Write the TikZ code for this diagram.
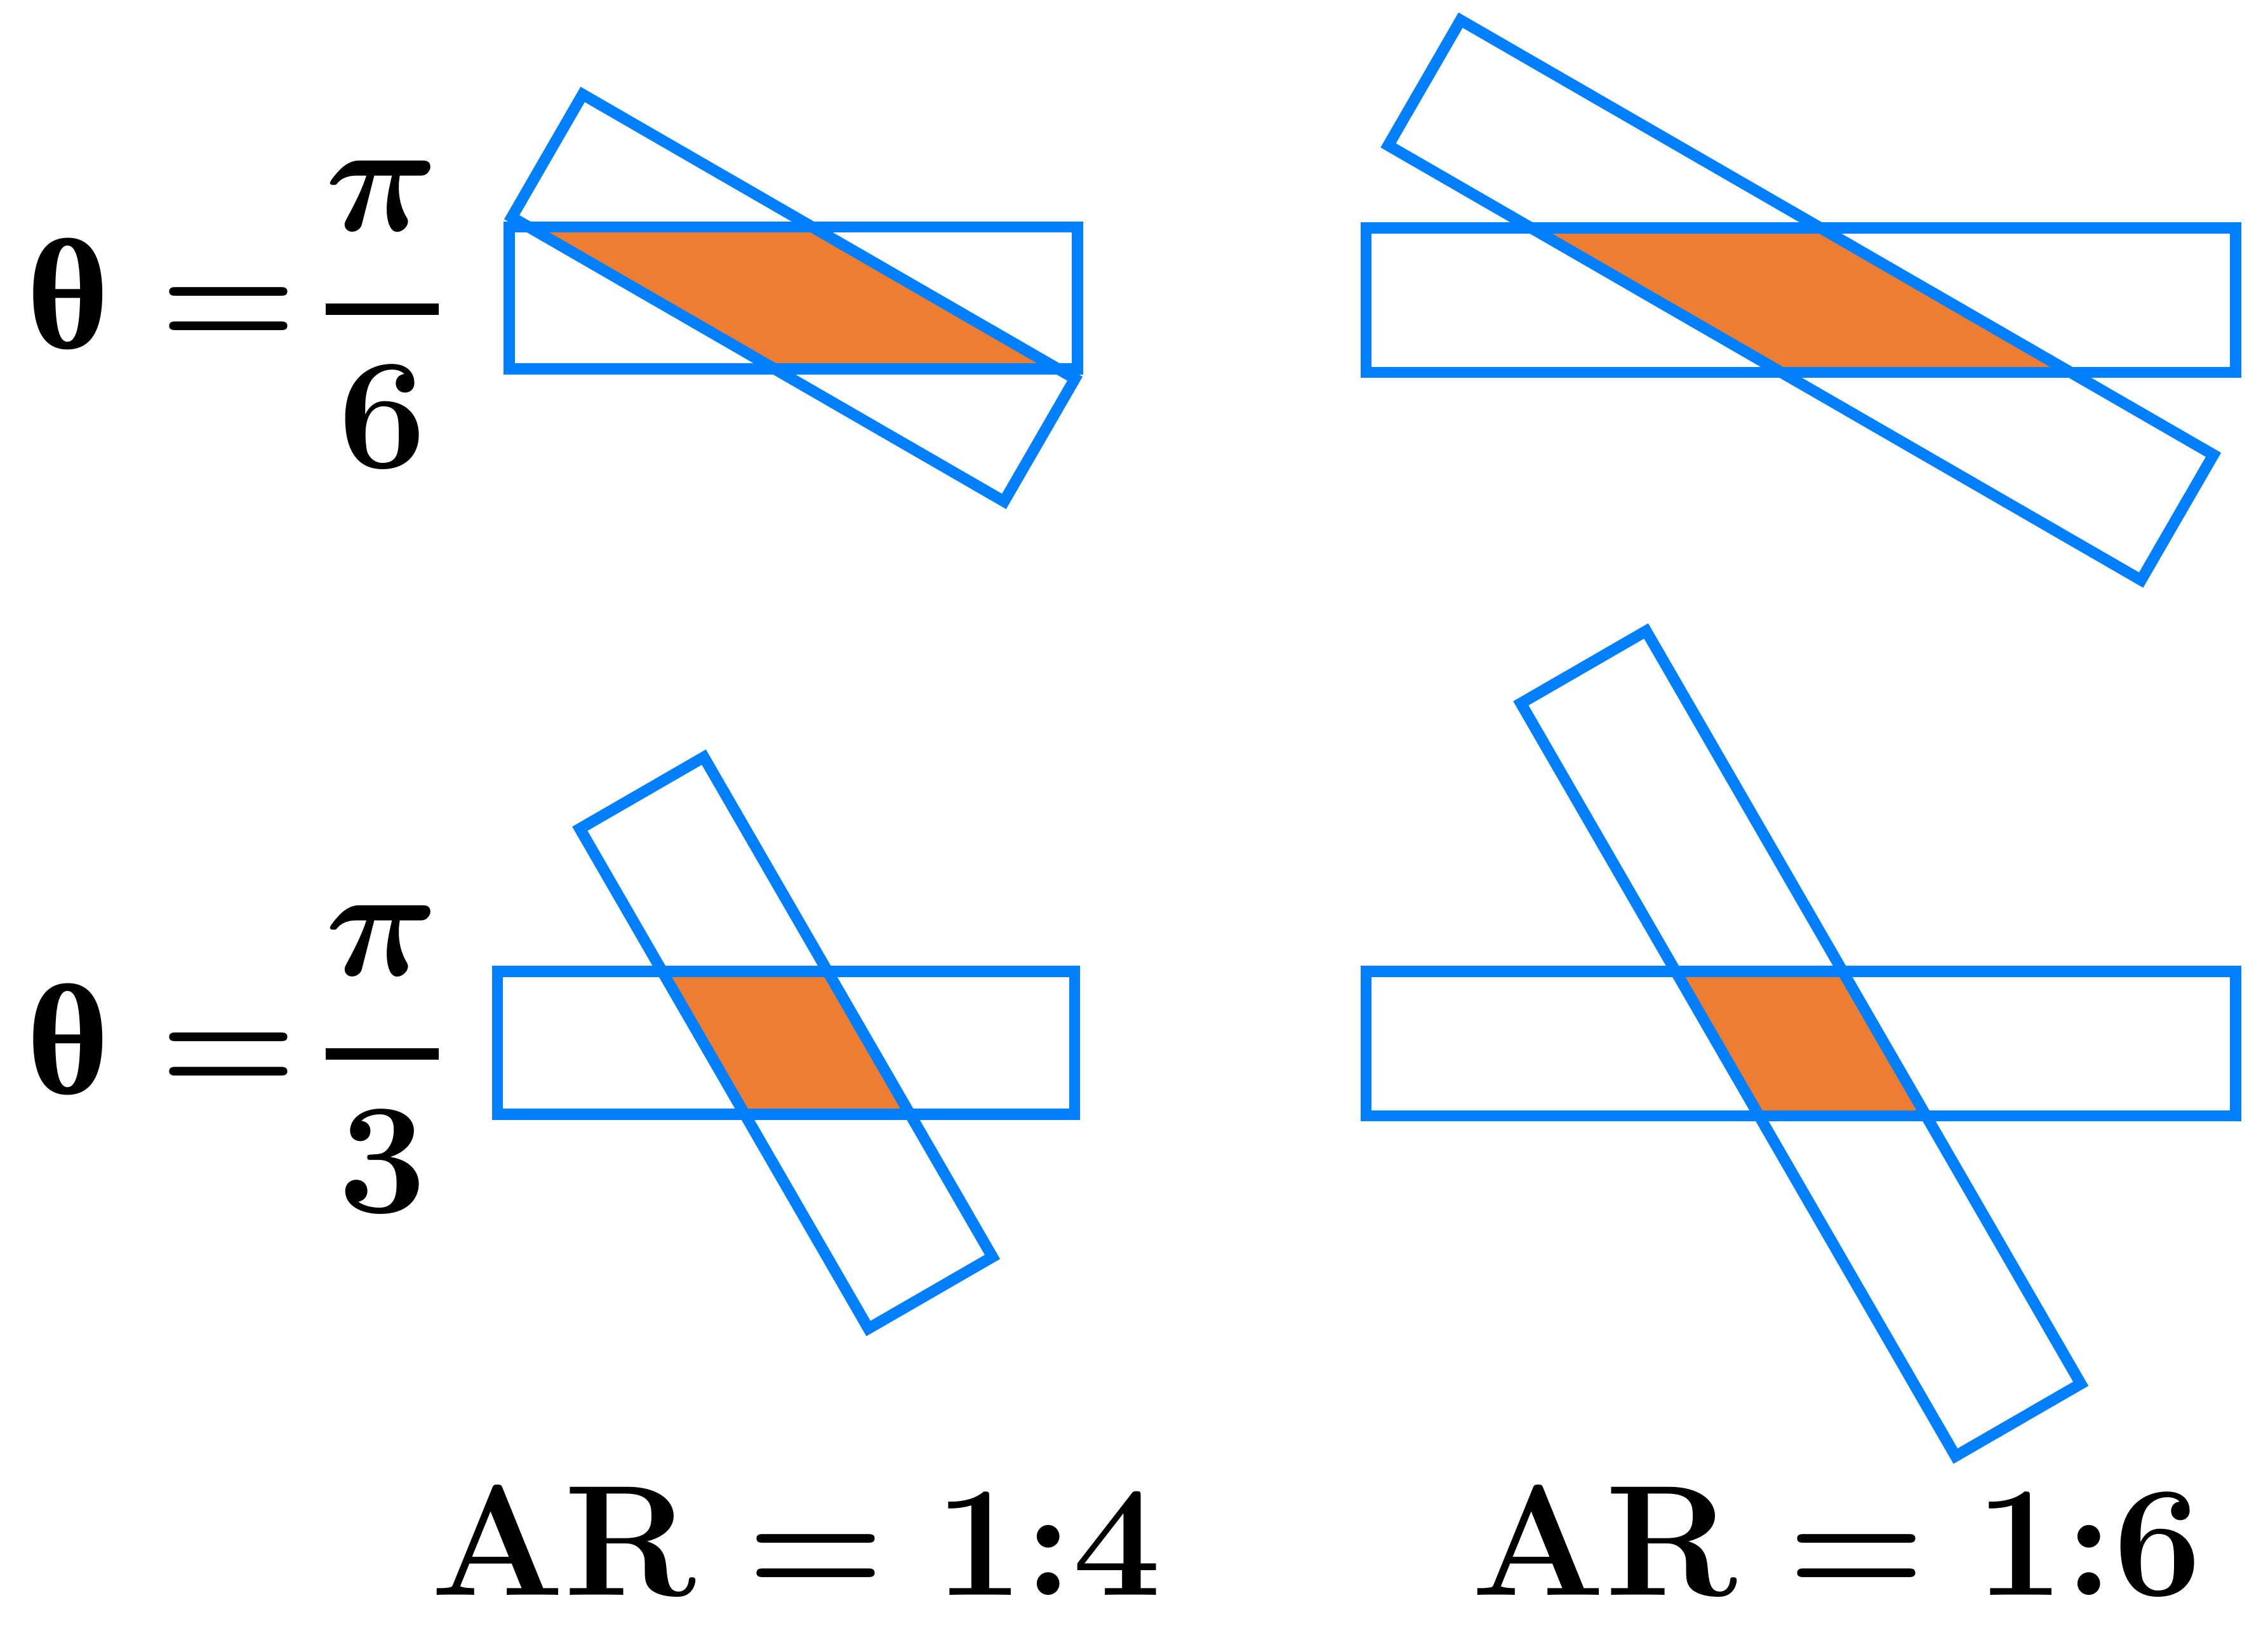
\documentclass[tikz,border=0pt]{standalone}
\usepackage{amsmath}
\usepackage{fontspec}
\newfontfamily\thetafont{Liberation Serif}
\usetikzlibrary{backgrounds}
\definecolor{barblue}{RGB}{0,128,255}
\definecolor{cutorange}{RGB}{237,125,49}
\tikzset{
    barbox/.style={rectangle, draw=barblue, line width=2.2pt, outer sep=0pt, inner sep=0pt},
    eqn/.style={anchor=base, inner sep=0pt, scale=1.246, font=\Huge\boldmath}
}
\def\Cross#1#2#3#4#5{
    \node[barbox, minimum width=#3cm, minimum height=#4cm] (flat#1) at #2 {};
    \node[barbox, minimum width=#3cm, minimum height=#4cm, rotate=#5] (tilt#1) at #2 {};
    \begin{scope}[on background layer]
        \begin{scope}
        \clip (flat#1.south west) rectangle (flat#1.north east);
        \fill[cutorange] (tilt#1.north west) -- (tilt#1.north east) -- (tilt#1.south east) -- (tilt#1.south west) -- cycle;
        \end{scope}
    \end{scope}
}

\begin{document}
\begin{tikzpicture}
    \useasboundingbox (0,0) rectangle (15.68,11.29);
    \Cross{1}{(5.485,9.23)}{3.93}{0.98}{-30}
    \Cross{2}{(12.45,9.215)}{6.01}{1.00}{-30}
    \Cross{3}{(5.435,4.08)}{3.99}{0.99}{-60}
    \Cross{4}{(12.45,4.075)}{6.01}{1.00}{-60}

    \node[eqn, anchor=base west] (ang1) at (0.18,8.88) {$\text{\thetafont\bfseries θ} = \!\genfrac{}{}{1.8pt}{0}{\pi}{6}$};
    \node[eqn, anchor=base west] (ang2) at (0.18,3.73) {$\text{\thetafont\bfseries θ} = \!\genfrac{}{}{1.8pt}{0}{\pi}{3}$};
    \node[eqn] (ar1) at (5.505,0.26) {$\mathbf{AR} = \mathbf{1{:}4}$};
    \node[eqn] (ar2) at (12.70,0.26) {$\mathbf{AR} = \mathbf{1{:}6}$};
\end{tikzpicture}
\end{document}
